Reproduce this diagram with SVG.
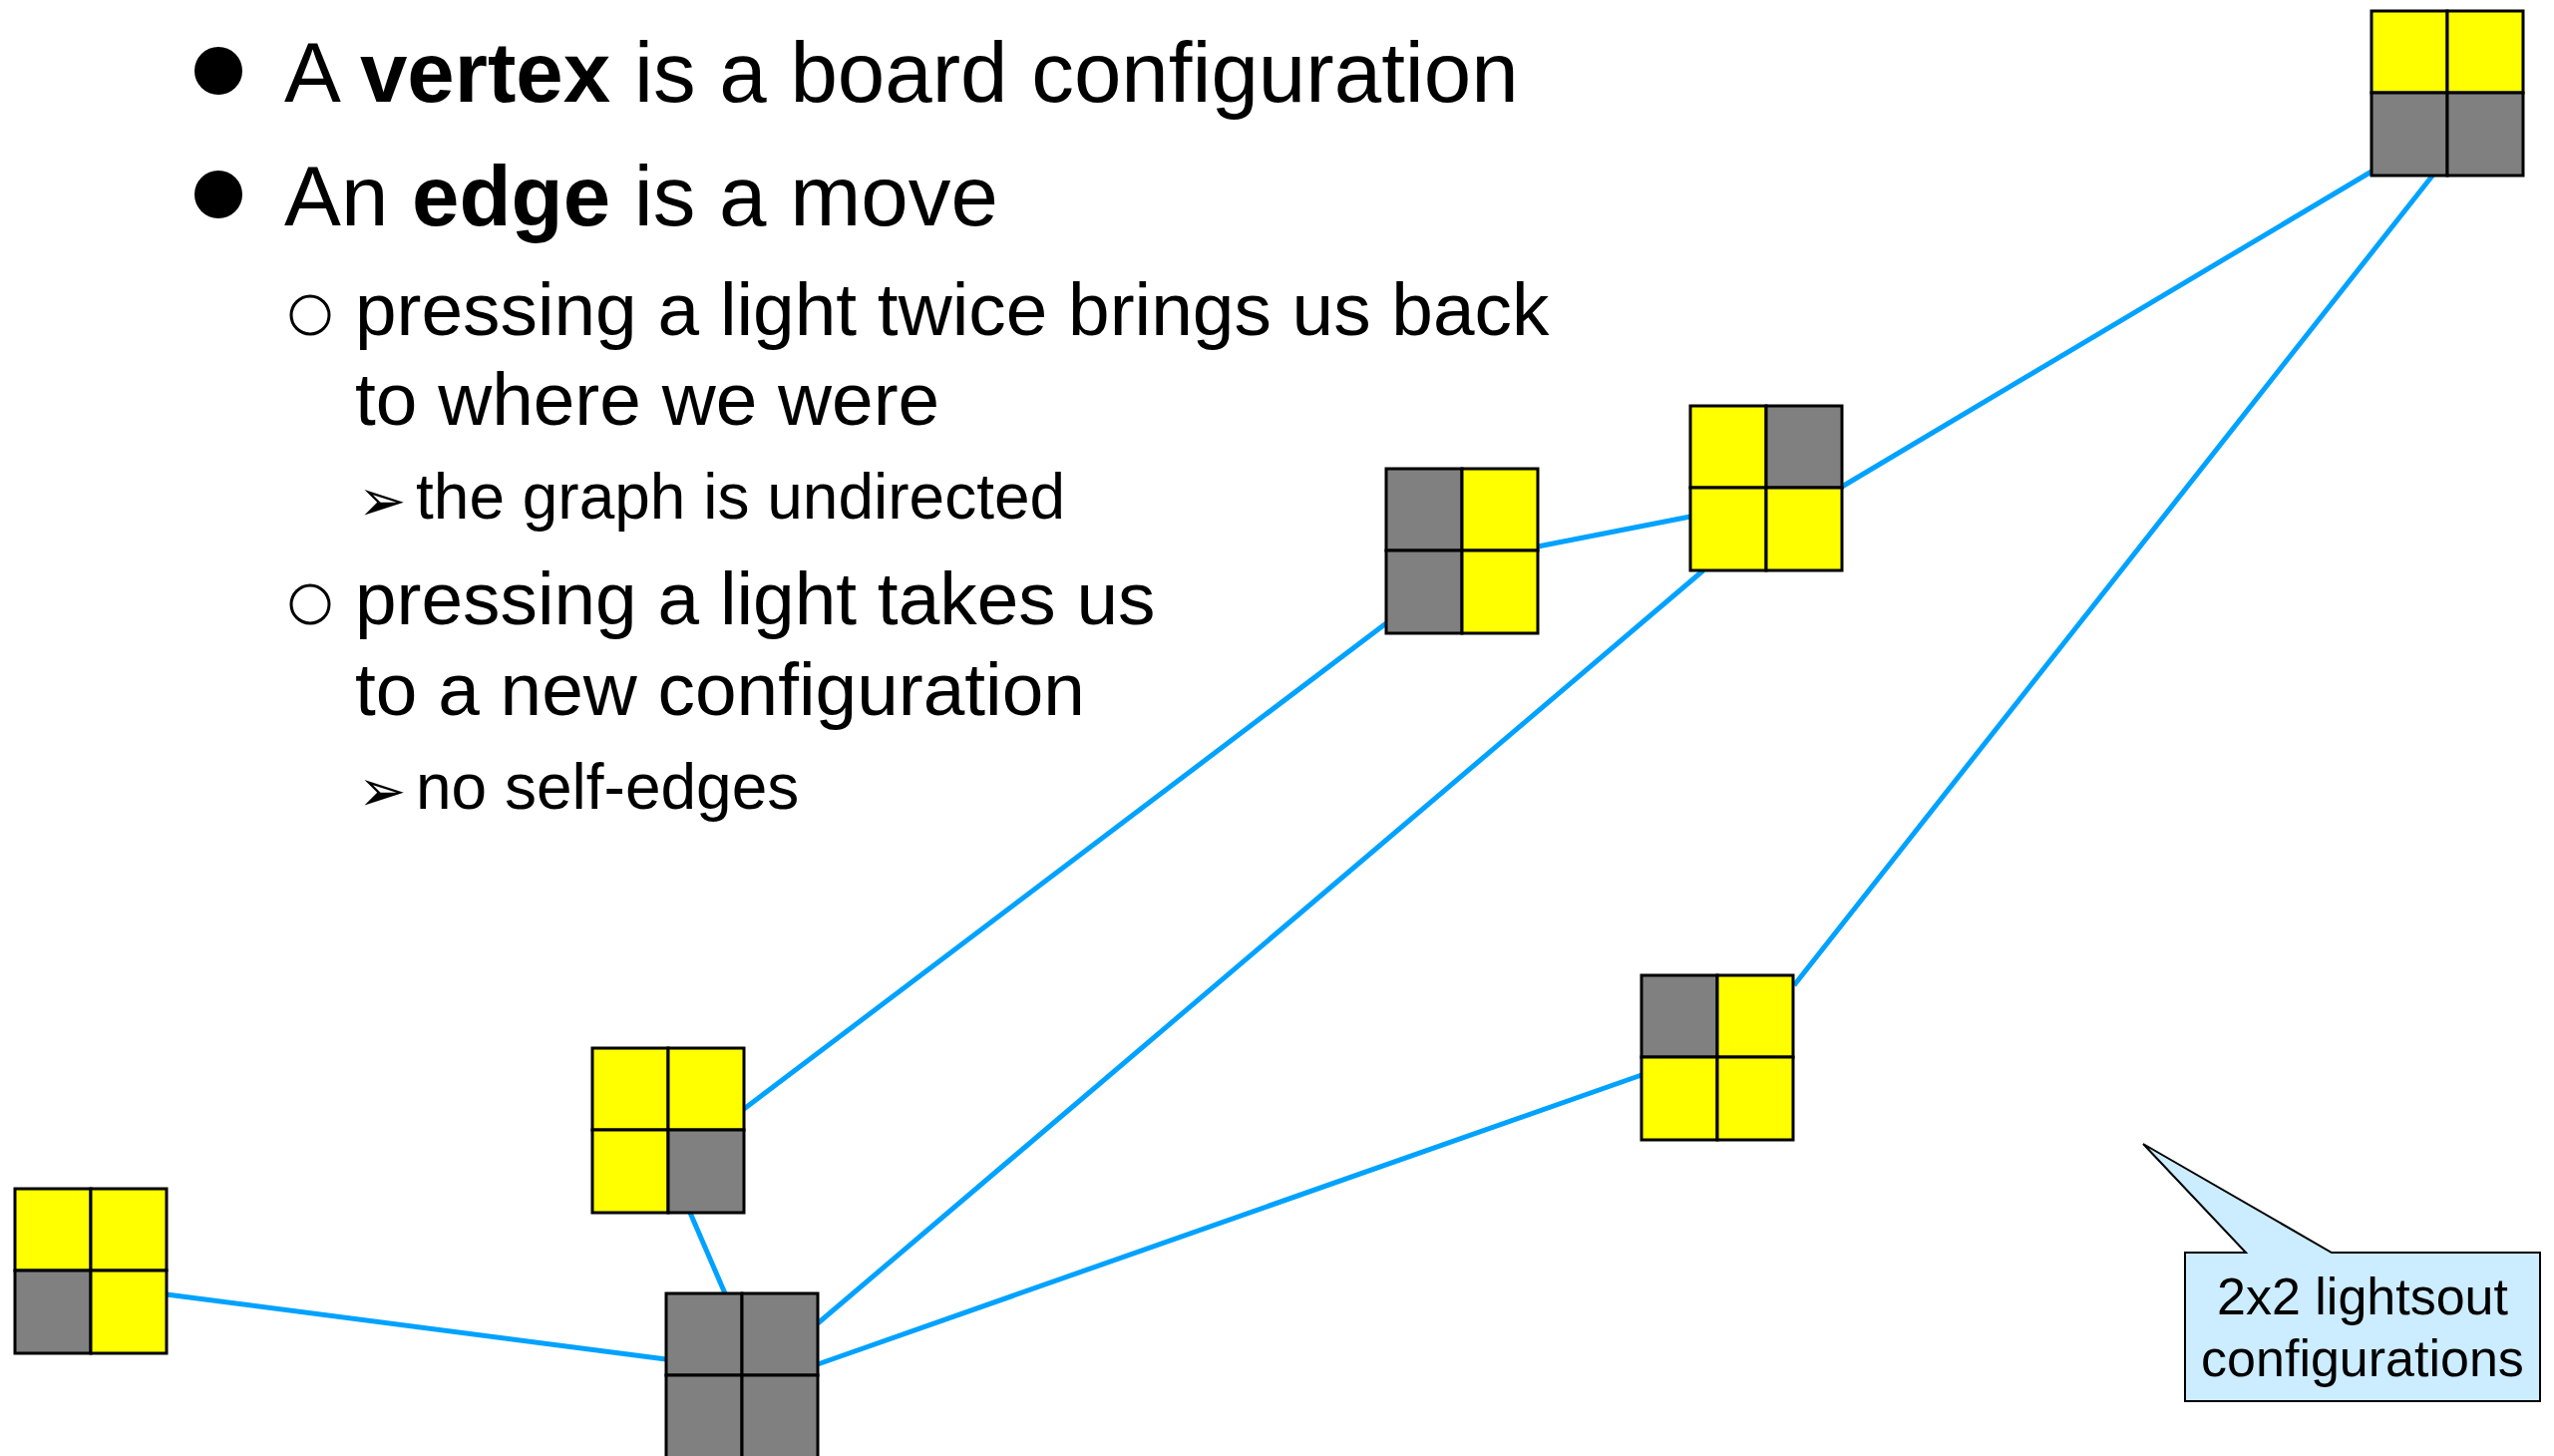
<svg xmlns="http://www.w3.org/2000/svg" width="2561" height="1460" viewBox="0 0 2561 1460">
<style>
.t{font-family:"Liberation Sans",Arial,sans-serif;fill:#000}
.l1{font-size:85.3px}
.l2{font-size:74.8px}
.l3{font-size:64px}
.b{font-weight:bold}
.arr{font-family:"DejaVu Sans",sans-serif;font-size:58px}
.e{stroke:#00A2FF;stroke-width:5;fill:none}
.y{fill:#FFFF00;stroke:#000;stroke-width:3}
.g{fill:#808080;stroke:#000;stroke-width:3}
</style>
<rect width="2561" height="1460" fill="#fff"/>
<g id="text">
<circle cx="219" cy="71" r="24" fill="#000"/>
<text class="t l1" x="285" y="102">A <tspan class="b">vertex</tspan> is a board configuration</text>
<circle cx="219" cy="195" r="24" fill="#000"/>
<text class="t l1" x="285" y="226">An <tspan class="b">edge</tspan> is a move</text>
<circle cx="311" cy="316" r="19" fill="none" stroke="#000" stroke-width="3"/>
<text class="t l2" x="356" y="336">pressing a light twice brings us back</text>
<text class="t l2" x="356" y="426">to where we were</text>
<text class="arr" x="359" y="522">➢</text>
<text class="t l3" x="417" y="520">the graph is undirected</text>
<circle cx="311" cy="606" r="19" fill="none" stroke="#000" stroke-width="3"/>
<text class="t l2" x="356" y="626">pressing a light takes us</text>
<text class="t l2" x="356" y="717">to a new configuration</text>
<text class="arr" x="359" y="813">➢</text>
<text class="t l3" x="417" y="811">no self-edges</text>
</g>
<g id="connectors">
<line class="e" x1="167" y1="1298" x2="668" y2="1363"/>
<line class="e" x1="692" y1="1216" x2="727" y2="1297"/>
<line class="e" x1="820" y1="1368" x2="1646" y2="1078"/>
<line class="e" x1="820" y1="1327" x2="1708" y2="572"/>
<line class="e" x1="746" y1="1112" x2="1390" y2="625"/>
<line class="e" x1="1542" y1="548" x2="1695" y2="518"/>
<line class="e" x1="1847" y1="488" x2="2378" y2="172"/>
<line class="e" x1="2440" y1="175" x2="1799" y2="988"/>
</g>
<g id="node-A" transform="translate(1390,470)">
<rect class="g" x="0" y="0" width="76" height="82"/><rect class="y" x="76" y="0" width="76" height="82"/>
<rect class="g" x="0" y="82" width="76" height="83"/><rect class="y" x="76" y="82" width="76" height="83"/>
</g>
<g id="node-B" transform="translate(1695,407)">
<rect class="y" x="0" y="0" width="76" height="82"/><rect class="g" x="76" y="0" width="76" height="82"/>
<rect class="y" x="0" y="82" width="76" height="83"/><rect class="y" x="76" y="82" width="76" height="83"/>
</g>
<g id="node-C" transform="translate(2378,11)">
<rect class="y" x="0" y="0" width="76" height="82"/><rect class="y" x="76" y="0" width="76" height="82"/>
<rect class="g" x="0" y="82" width="76" height="83"/><rect class="g" x="76" y="82" width="76" height="83"/>
</g>
<g id="node-D" transform="translate(15,1192)">
<rect class="y" x="0" y="0" width="76" height="82"/><rect class="y" x="76" y="0" width="76" height="82"/>
<rect class="g" x="0" y="82" width="76" height="83"/><rect class="y" x="76" y="82" width="76" height="83"/>
</g>
<g id="node-E" transform="translate(594,1051)">
<rect class="y" x="0" y="0" width="76" height="82"/><rect class="y" x="76" y="0" width="76" height="82"/>
<rect class="y" x="0" y="82" width="76" height="83"/><rect class="g" x="76" y="82" width="76" height="83"/>
</g>
<g id="node-F" transform="translate(668,1297)">
<rect class="g" x="0" y="0" width="76" height="82"/><rect class="g" x="76" y="0" width="76" height="82"/>
<rect class="g" x="0" y="82" width="76" height="83"/><rect class="g" x="76" y="82" width="76" height="83"/>
</g>
<g id="node-G" transform="translate(1646,978)">
<rect class="g" x="0" y="0" width="76" height="82"/><rect class="y" x="76" y="0" width="76" height="82"/>
<rect class="y" x="0" y="82" width="76" height="83"/><rect class="y" x="76" y="82" width="76" height="83"/>
</g>
<g id="callout">
<path d="M2191 1256 H2252 L2149 1147 L2338 1256 H2547 V1405 H2191 Z" fill="#CCECFF" stroke="#000" stroke-width="2"/>
<text class="t" x="2369" y="1318" font-size="52" text-anchor="middle">2x2 lightsout</text>
<text class="t" x="2369" y="1380" font-size="52" text-anchor="middle">configurations</text>
</g>
</svg>
